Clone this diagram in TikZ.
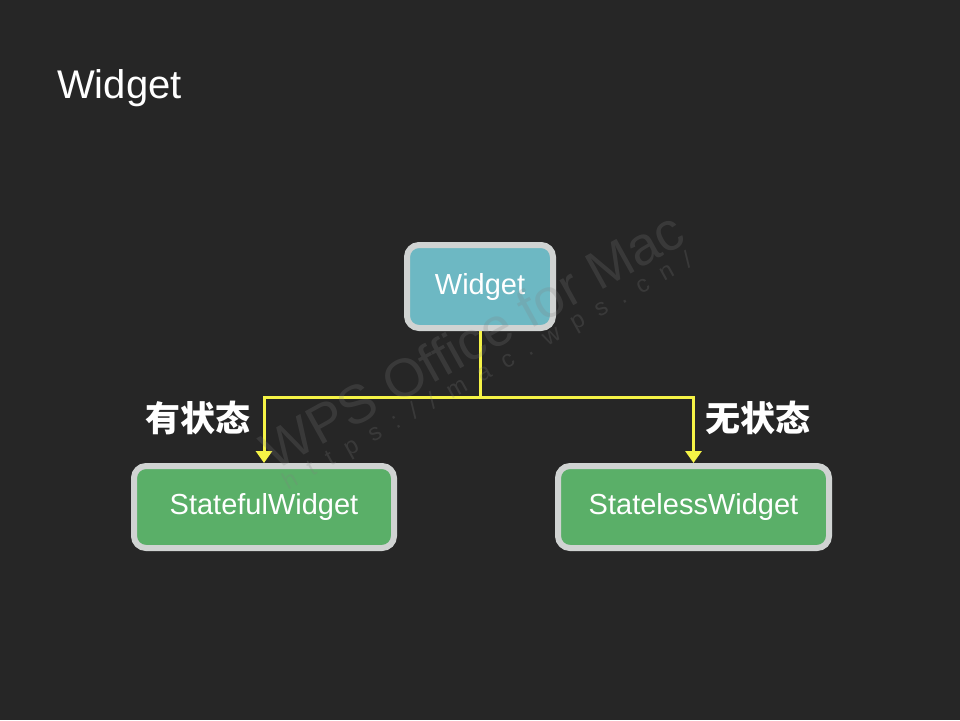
\documentclass[tikz,border=0pt]{standalone}
\usepackage{fontspec}
\setmainfont{Liberation Sans}
\newfontfamily\cjk{Noto Sans CJK SC}
\usetikzlibrary{arrows.meta}
\definecolor{bgc}{RGB}{38,38,38}
\definecolor{bordc}{RGB}{208,211,210}
\definecolor{tealc}{RGB}{109,184,195}
\definecolor{greenc}{RGB}{90,175,104}
\definecolor{yelc}{RGB}{245,243,70}
\definecolor{wmc}{RGB}{128,128,128}
\tikzset{
  box/.style={draw=bordc, line width=6pt, rounded corners=12pt, text=white,
    font=\fontsize{29}{34}\selectfont, inner sep=0pt},
  conn/.style={draw=yelc, line width=3pt, -{Triangle[width=16pt,length=12pt]}},
  lbl/.style={text=white, font=\cjk\bfseries\fontsize{35}{40}\selectfont, inner sep=0pt},
  wm/.style={text=wmc, text opacity=0.22, inner sep=0pt, rotate=29}
}
\begin{document}
\begin{tikzpicture}[x=1pt,y=-1pt]
\fill[bgc] (0,0) rectangle (960,720);
\useasboundingbox (0,0) rectangle (960,720);
\node[text=white, font=\fontsize{40}{44}\selectfont, anchor=base west, inner sep=0pt] (title) at (57,98) {Widget};
\node[box, fill=tealc, minimum width=146pt, minimum height=83pt] (w) at (480,286.5) {Widget};
\node[box, fill=greenc, minimum width=260pt, minimum height=82pt] (sf) at (264,507) {StatefulWidget};
\node[box, fill=greenc, minimum width=271pt, minimum height=82pt] (sl) at (693.5,507) {StatelessWidget};
\coordinate (j) at (480,397);
\draw[draw=yelc, line width=3pt] (w.south) -- (j);
\draw[conn] (j) -| (sf.north);
\draw[conn] (j) -| (sl.north);
\node[lbl] (l1) at (198,418) {有状态};
\node[lbl] (l2) at (758,418) {无状态};
\node[wm, font=\fontsize{54}{60}\selectfont] (wm1) at (472,340) {WPS Office for Mac};
\node[wm, font=\addfontfeatures{LetterSpace=60}\fontsize{24}{28}\selectfont] (wm2) at (488,372) {https://mac.wps.cn/};
\end{tikzpicture}
\end{document}
